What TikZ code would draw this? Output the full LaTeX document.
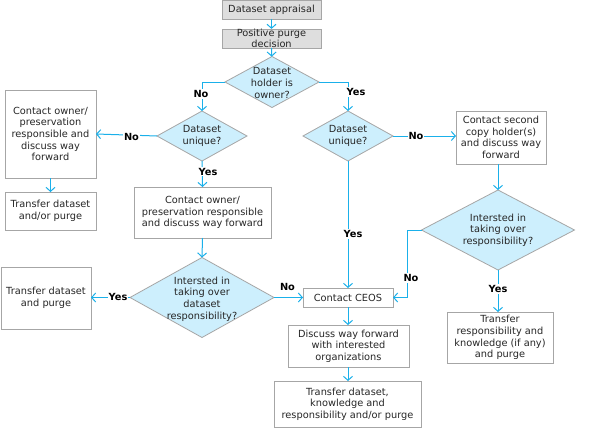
\documentclass[tikz,border=0pt]{standalone}
\usepackage{fontspec}
\setmainfont{DejaVu Sans}
\usetikzlibrary{shapes.geometric,arrows.meta}
\definecolor{lineblue}{HTML}{1AB0EA}
\definecolor{diafill}{HTML}{CDEFFD}
\definecolor{bordergray}{HTML}{A6A6A6}
\definecolor{grayfill}{HTML}{DEDEDE}
\definecolor{txt}{HTML}{262626}
\tikzset{
  box/.style={draw=bordergray, line width=0.8pt, fill=white, rectangle, inner sep=0pt, outer sep=0pt, align=center, text=txt, font=\fontsize{9.8}{11.6}\selectfont},
  graybox/.style={box, fill=grayfill},
  dia/.style={draw=bordergray, line width=0.8pt, fill=diafill, diamond, inner sep=0pt, outer sep=0pt},
  diatext/.style={align=center, text=txt, font=\fontsize{9.8}{11.6}\selectfont, inner sep=0pt},
  conn/.style={draw=lineblue, line width=1pt, -{Straight Barb[length=4pt,width=9pt]}},
  lbl/.style={font=\bfseries\fontsize{9.8}{11.6}\selectfont, inner sep=1pt, fill=white},
  lblnf/.style={font=\bfseries\fontsize{9.8}{11.6}\selectfont, inner sep=1pt}
}
\begin{document}
\begin{tikzpicture}[x=1pt,y=-1pt]
\useasboundingbox (0,0) rectangle (591,444);
\fill[white] (0,0) rectangle (591,444);

% boxes
\node[graybox, minimum width=99pt, minimum height=19pt] (b1) at (271.5,9.5) {Dataset appraisal};
\node[graybox, minimum width=99pt, minimum height=19pt] (b2) at (271.5,38.5) {Positive purge\\decision};
\node[box, minimum width=91pt, minimum height=88pt] (b3) at (50.5,134) {Contact owner/\\preservation\\responsible and\\discuss way\\forward};
\node[box, minimum width=91pt, minimum height=38pt] (b4) at (50.5,211) {Transfer dataset\\and/or purge};
\node[box, minimum width=137pt, minimum height=51pt] (b5) at (202.5,212.5) {Contact owner/\\preservation responsible\\and discuss way forward};
\node[box, minimum width=90pt, minimum height=62pt] (b6) at (46,298) {Transfer dataset\\and purge};
\node[box, minimum width=90pt, minimum height=19pt] (b7) at (348,297.5) {Contact CEOS};
\node[box, minimum width=121pt, minimum height=42pt] (b8) at (348.5,346) {Discuss way forward\\with interested\\organizations};
\node[box, minimum width=147pt, minimum height=46pt] (b9) at (347.5,404) {Transfer dataset,\\knowledge and\\responsibility and/or purge};
\node[box, minimum width=90pt, minimum height=53pt] (b10) at (501,137.5) {Contact second\\copy holder(s)\\and discuss way\\forward};
\node[box, minimum width=106pt, minimum height=51pt] (b11) at (500,337.5) {Transfer\\responsibility and\\knowledge (if any)\\and purge};

% diamonds
\node[dia, minimum width=94pt, minimum height=51pt] (d1) at (272,82) {};
\node[diatext] (t1) at (272,83) {Dataset\\holder is\\owner?};
\node[dia, minimum width=90pt, minimum height=50pt] (d2) at (202,136) {};
\node[diatext] (t2) at (d2.center) {Dataset\\unique?};
\node[dia, minimum width=90pt, minimum height=50pt] (d3) at (348,136) {};
\node[diatext] (t3) at (d3.center) {Dataset\\unique?};
\node[dia, minimum width=144pt, minimum height=80pt] (d4) at (202,297.5) {};
\node[diatext] (t4) at (202,299) {Intersted in\\taking over\\dataset\\responsibility?};
\node[dia, minimum width=153pt, minimum height=80pt] (d5) at (498,230) {};
\node[diatext] (t5) at (d5.center) {Intersted in\\taking over\\responsibility?};

% connectors
\draw[conn] (b1) -- (b2);
\draw[conn] (b2) -- (d1);
\draw[conn] (d1.west) -| (d2.north);
\draw[conn] (d1.east) -| (d3.north);
\draw[conn] (d2.west) -- (b3.east);
\draw[conn] (b3) -- (b4);
\draw[conn] (d2.south) -- (b5.north);
\draw[conn] (b5.south) -- (d4.north);
\draw[conn] (d4.west) -- (b6.east |- d4.west);
\draw[conn] (d4.east) -- (b7.west);
\draw[conn] (d3.east) -- (b10.west |- d3.east);
\draw[conn] (d3.south) -- (b7.north);
\draw[conn] (b10.south -| d5.north) -- (d5.north);
\coordinate (c1) at (407,230);
\draw[conn] (d5.west) -- (c1) |- (b7.east);
\draw[conn] (d5.south) -- (d5.south |- b11.north);
\draw[conn] (b7.south) -- (b7.south |- b8.north);
\draw[conn] (b8.south -| b7.south) -- (b7.south |- b9.north);

% labels
\node[lbl] (l1) at (201,94) {No};
\node[lbl] (l2) at (356,92) {Yes};
\node[lbl] (l3) at (131.5,136.5) {No};
\node[lbl] (l4) at (208,171.5) {Yes};
\node[lbl] (l5) at (118,297) {Yes};
\node[lblnf] (l6) at (287.5,287) {No};
\node[lbl] (l7) at (416,136) {No};
\node[lbl] (l8) at (353,234) {Yes};
\node[lbl] (l9) at (411,278) {No};
\node[lbl] (l10) at (498,289) {Yes};
\end{tikzpicture}
\end{document}
